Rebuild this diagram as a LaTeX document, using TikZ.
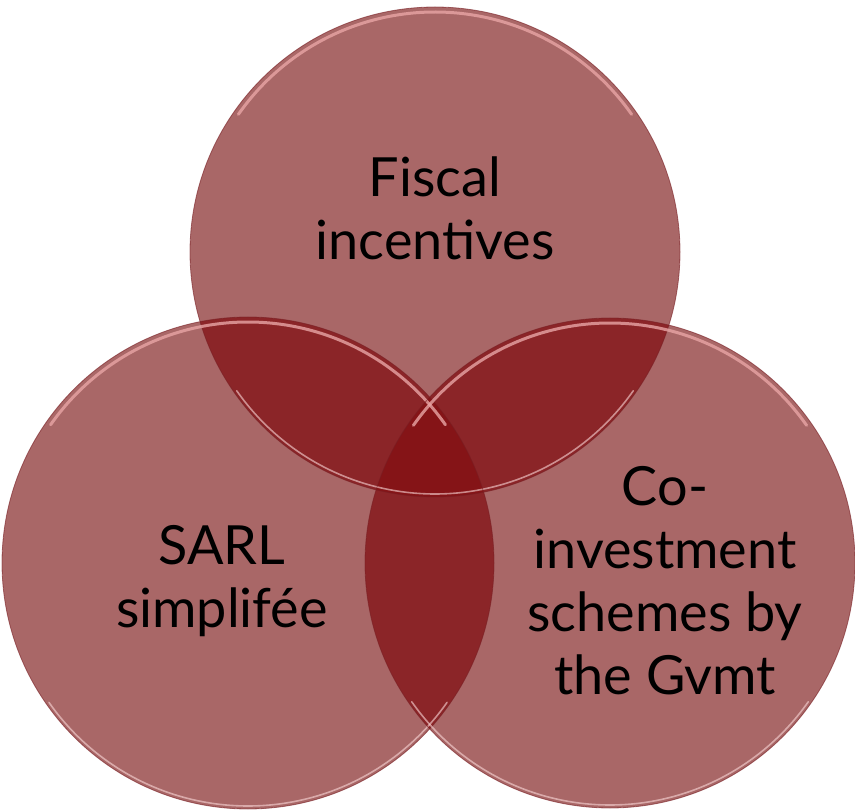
\documentclass[tikz,border=0pt]{standalone}
\usepackage{fontspec}
\setmainfont{Lato}
\usetikzlibrary{calc}
\definecolor{vsingle}{RGB}{169,103,103}
\definecolor{vdouble}{RGB}{139,37,40}
\definecolor{vtriple}{RGB}{133,20,23}
\definecolor{vrim}{RGB}{232,165,165}
\definecolor{vlow}{RGB}{250,215,215}
\definecolor{vedge}{RGB}{120,30,35}
\begin{document}
\begin{tikzpicture}[x=1pt,y=-1pt,
  lbl/.style={font=\fontsize{54}{63}\selectfont, align=center, text=black},
  rimline/.style={vrim, line width=3pt, opacity=0.8, line cap=round},
  lowline/.style={vlow, line width=1.6pt, opacity=0.6, line cap=round},
  edgeline/.style={vedge, line width=0.8pt, opacity=0.6}]
\useasboundingbox (0,0) rectangle (855,810);
\coordinate (ct) at (435,252);
\coordinate (cl) at (248,563);
\coordinate (cr) at (610,563);
\def\rt{245}\def\rl{246}\def\rr{245}
% single fills
\fill[vsingle] (ct) circle (\rt);
\fill[vsingle] (cl) circle (\rl);
\fill[vsingle] (cr) circle (\rr);
% pairwise overlaps
\begin{scope}
  \clip (ct) circle (\rt);
  \fill[vdouble] (cl) circle (\rl);
  \fill[vdouble] (cr) circle (\rr);
\end{scope}
\begin{scope}
  \clip (cl) circle (\rl);
  \fill[vdouble] (cr) circle (\rr);
\end{scope}
% triple overlap
\begin{scope}
  \clip (ct) circle (\rt);
  \clip (cl) circle (\rl);
  \fill[vtriple] (cr) circle (\rr);
\end{scope}
% edges and glossy rims
\foreach \c/\r in {ct/\rt, cl/\rl, cr/\rr}{
  \draw[edgeline] (\c) circle (\r);
  \draw[rimline] ($(\c)+(215:\r-5)$) arc (215:325:\r-5);
  \draw[lowline] ($(\c)+(35:\r-3)$) arc (35:145:\r-3);
}
% labels
\node[lbl] (fiscal) at (435,208) {Fiscal\\incentives};
\node[lbl] (sarl) at (222,581) {SARL\\simplifée};
\node[lbl] (coinv) at (665,581) {Co-\\investment\\schemes by\\the Gvmt};
\end{tikzpicture}
\end{document}
